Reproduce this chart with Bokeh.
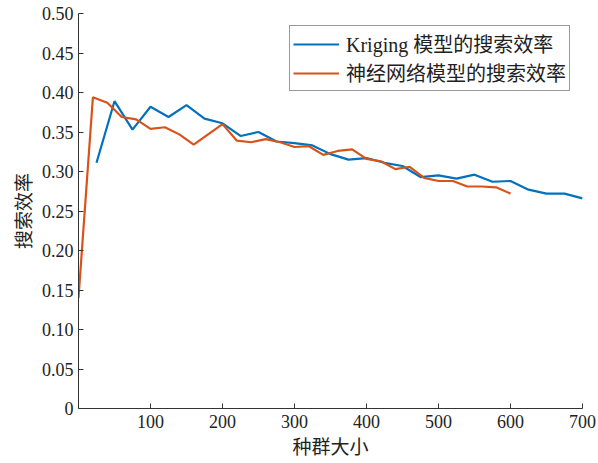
from bokeh.plotting import figure
from bokeh.models import FixedTicker, CustomJSTickFormatter, Range1d, Legend, LegendItem
from bokeh.embed import file_html
from bokeh.resources import INLINE

# Data
kriging_x = [25, 50, 75, 100, 125, 150, 175, 200, 225, 250, 275, 300, 325, 350,
             375, 400, 425, 450, 475, 500, 525, 550, 575, 600, 625, 650, 675, 700]
kriging_y = [0.311, 0.389, 0.353, 0.382, 0.369, 0.384, 0.367, 0.361, 0.345, 0.350,
             0.338, 0.336, 0.333, 0.322, 0.315, 0.317, 0.311, 0.307, 0.293, 0.295,
             0.291, 0.296, 0.287, 0.288, 0.277, 0.272, 0.272, 0.266]
nn_x = [0, 20, 40, 60, 80, 100, 120, 140, 160, 180, 200, 220, 240, 260, 280, 300,
        320, 340, 360, 380, 400, 420, 440, 460, 480, 500, 520, 540, 560, 580, 600]
nn_y = [0.140, 0.394, 0.387, 0.369, 0.366, 0.354, 0.356, 0.347, 0.334, 0.347, 0.360,
        0.339, 0.337, 0.341, 0.337, 0.331, 0.332, 0.321, 0.326, 0.328, 0.316, 0.313,
        0.303, 0.306, 0.292, 0.288, 0.288, 0.281, 0.281, 0.280, 0.272]
x_ticks = [100, 200, 300, 400, 500, 600, 700]
y_ticks = [0, 0.05, 0.10, 0.15, 0.20, 0.25, 0.30, 0.35, 0.40, 0.45, 0.50]
x_label = "种群大小"
y_label = "搜索效率"
labels = ["Kriging 模型的搜索效率", "神经网络模型的搜索效率"]

FONT = "Liberation Serif, Noto Sans CJK SC"

p = figure(width=598, height=463, output_backend="svg", toolbar_location=None,
           x_range=Range1d(0, 700), y_range=Range1d(0, 0.5),
           min_border_left=78, min_border_right=16, min_border_top=13, min_border_bottom=55)
p.outline_line_color = None
p.xgrid.visible = False
p.ygrid.visible = False

r1 = p.line(kriging_x, kriging_y, line_color="#0072BD", line_width=2.2)
r2 = p.line(nn_x, nn_y, line_color="#D95319", line_width=2.2)

for ax in (p.xaxis[0], p.yaxis[0]):
    ax.major_tick_in = 5
    ax.major_tick_out = 0
    ax.minor_tick_line_color = None
    ax.axis_line_color = "#333333"
    ax.major_tick_line_color = "#333333"
    ax.major_label_text_font = FONT
    ax.major_label_text_font_size = "18px"
    ax.major_label_text_color = "#222222"
    ax.axis_label_text_font = FONT
    ax.axis_label_text_font_size = "19px"
    ax.axis_label_text_font_style = "normal"
    ax.axis_label_text_color = "#222222"

p.xaxis.ticker = FixedTicker(ticks=x_ticks)
p.yaxis.ticker = FixedTicker(ticks=y_ticks)
p.yaxis.formatter = CustomJSTickFormatter(code="return tick == 0 ? '0' : tick.toFixed(2);")
p.xaxis.axis_label = x_label
p.yaxis.axis_label = y_label
p.xaxis.major_label_standoff = 6
p.yaxis.major_label_standoff = 5
p.xaxis.axis_label_standoff = 6
p.yaxis.axis_label_standoff = 4

legend = Legend(items=[LegendItem(label=labels[0], renderers=[r1]),
                       LegendItem(label=labels[1], renderers=[r2])],
                location="top_right")
legend.label_text_font = FONT
legend.label_text_font_size = "20px"
legend.label_text_color = "#222222"
legend.label_height = 20
legend.glyph_height = 20
legend.glyph_width = 46
legend.label_standoff = 7
legend.spacing = -5
legend.padding = 3
legend.margin = 12
legend.border_line_color = "#333333"
legend.border_line_width = 1
p.add_layout(legend, "center")

open("out.html", "w").write(file_html(p, INLINE))
